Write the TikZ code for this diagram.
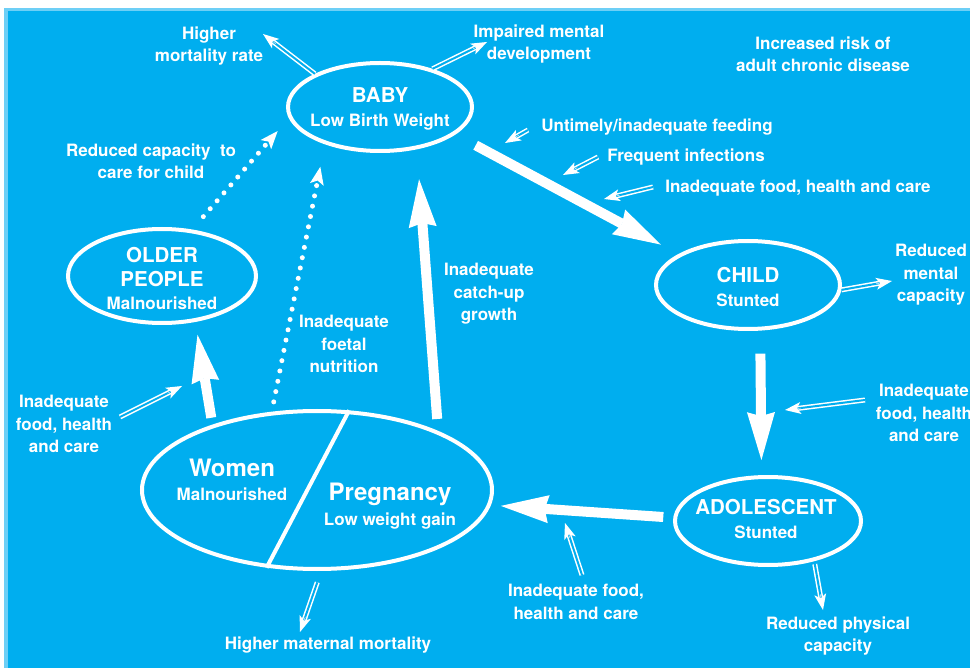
\documentclass[tikz,border=0pt]{standalone}
\usepackage{fontspec}
\setmainfont{TeX Gyre Heros}
\usetikzlibrary{shapes.geometric,arrows.meta,calc}

\definecolor{bgblue}{HTML}{00AEEF}
\definecolor{edgeblue}{HTML}{6DCFF6}
\newcommand\lblfont{\fontsize{17}{22.5}\selectfont\bfseries}
\newcommand\ttlfont{\fontsize{20.5}{26}\selectfont\bfseries}
\newcommand\bigfont{\fontsize{24}{28}\selectfont\bfseries}
\tikzset{
  stage/.style={ellipse, draw=white, line width=4pt, inner sep=0pt},
  lbl/.style={text=white, font=\lblfont, align=center, inner sep=0pt},
  mainarrow/.style={white, line width=10pt, -{Stealth[length=48pt,width=28pt,inset=4pt,line width=0pt]}},
  dotarrow/.style={white, line width=5pt, line cap=round, dash pattern=on 0pt off 10.5pt,
    -{Stealth[length=18pt,width=14pt,inset=4pt,line width=0pt]}},
  dblline/.style={draw=white, double=bgblue, double distance=2pt, line width=1.5pt},
  dbltip/.style={white, line width=0.4pt, -{Stealth[length=16pt,width=12pt,inset=4pt,line width=0pt]}}
}
% double-lined arrow: line first, solid tip on top
\newcommand\dblarrow[3][]{%
  \draw[dblline,#1] (#2) -- ($(#3)!12pt!(#2)$);
  \draw[dbltip] ($(#3)!16pt!(#2)$) -- (#3);}

\begin{document}
\begin{tikzpicture}[x=1pt, y=-1pt]
  % frame
  \useasboundingbox (0,0) rectangle (970,668);
  \fill[white] (0,0) rectangle (970,668);
  \fill[edgeblue] (4,8) rectangle (970,668);
  \fill[bgblue] (8,11) rectangle (970,668);

  % life stages
  \node[stage, minimum width=184, minimum height=88] (baby) at (380,107) {};
  \node[stage, minimum width=188, minimum height=94] (older) at (162,276) {};
  \node[stage, minimum width=184, minimum height=88] (child) at (748,285) {};
  \node[stage, minimum width=186, minimum height=88] (adol) at (768,521) {};
  \node[stage, minimum width=350, minimum height=158] (mother) at (317,490) {};
  \draw[white, line width=4pt] (mother.68) -- (mother.237);

  \node[lbl] (babytxt) at (380,109) {{\ttlfont BABY}\\[2pt]Low Birth Weight};
  \node[lbl] (oldertxt) at (162,278) {{\ttlfont OLDER}\\[2pt]{\ttlfont PEOPLE}\\Malnourished};
  \node[lbl] (childtxt) at (748,287) {{\ttlfont CHILD}\\[2pt]Stunted};
  \node[lbl] (adoltxt) at (766,519) {{\ttlfont ADOLESCENT}\\[2pt]Stunted};
  \node[lbl] (womentxt) at (232,480) {{\bigfont Women}\\[2pt]Malnourished};
  \node[lbl] (pregtxt) at (390,506) {{\bigfont Pregnancy}\\[2pt]Low weight gain};

  % labels
  \node[lbl] (mortality) at (209,46) {Higher\\mortality rate};
  \node[lbl] (impaired) at (539,44) {Impaired mental\\development};
  \node[lbl] (chronic) at (823,54) {Increased risk of\\adult chronic disease};
  \node[lbl] (feeding) at (657,127) {Untimely/inadequate feeding};
  \node[lbl] (infect) at (686,157) {Frequent infections};
  \node[lbl] (foodtop) at (798,188) {Inadequate food, health and care};
  \node[lbl] (carecap) at (151,161) {Reduced capacity\ \ to\\care for child};
  \node[lbl] (mental) at (931,275) {Reduced\\mental\\capacity};
  \node[lbl] (foodright) at (924,413) {Inadequate\\food, health\\and care};
  \node[lbl] (physical) at (838,636) {Reduced physical\\capacity};
  \node[lbl] (foodbottom) at (576,602) {Inadequate food,\\health and care};
  \node[lbl] (maternal) at (328,645) {Higher maternal mortality};
  \node[lbl] (foodleft) at (64,424) {Inadequate\\food, health\\and care};
  \node[lbl] (foetal) at (344,344) {Inadequate\\foetal\\nutrition};
  \node[lbl] (catchup) at (489,294) {Inadequate\\catch-up\\growth};

  % main cycle
  \draw[mainarrow, shorten <=23pt, shorten >=20pt] (baby.-20) -- (child.156);
  \draw[mainarrow, shorten <=23pt, shorten >=15pt] (child.-75) -- (adol.98);
  \draw[mainarrow, shorten <=10pt, shorten >=10pt] (adol.178) -- (mother.-5);
  \draw[mainarrow, shorten <=12pt, shorten >=30pt] (mother.26) -- (baby.-49);
  \draw[mainarrow, shorten <=7pt, shorten >=13pt] (mother.148) -- (older.-54);
  \draw[dotarrow, shorten <=17pt, shorten >=17pt] (older.57) -- (baby.187);
  \draw[dotarrow, shorten <=10pt, shorten >=23pt] (mother.120) -- (baby.214);

  % influences and outcomes
  \coordinate (tmort) at (263,34);
  \coordinate (timp) at (487,42);
  \coordinate (ffeed) at (528,130);
  \coordinate (tfeed) at (505,143);
  \coordinate (finf) at (598,157);
  \coordinate (tinf) at (563,175);
  \coordinate (ftop) at (653,187);
  \coordinate (ttop) at (604,199);
  \coordinate (tment) at (892,281);
  \coordinate (fright) at (865,400);
  \coordinate (tright) at (785,410);
  \coordinate (tphys) at (823,610);
  \coordinate (fbottom) at (582,575);
  \coordinate (tbottom) at (565,523);
  \coordinate (tmat) at (300,632);
  \coordinate (fleft) at (120,417);
  \coordinate (tleft) at (182,386);
  \dblarrow{baby.153}{tmort}
  \dblarrow{baby.36}{timp}
  \dblarrow{ffeed}{tfeed}
  \dblarrow{finf}{tinf}
  \dblarrow{ftop}{ttop}
  \dblarrow{child.-3}{tment}
  \dblarrow{fright}{tright}
  \dblarrow[shorten <=3pt]{adol.-41}{tphys}
  \dblarrow{fbottom}{tbottom}
  \dblarrow[shorten <=12pt]{mother.-87}{tmat}
  \dblarrow{fleft}{tleft}
\end{tikzpicture}
\end{document}
